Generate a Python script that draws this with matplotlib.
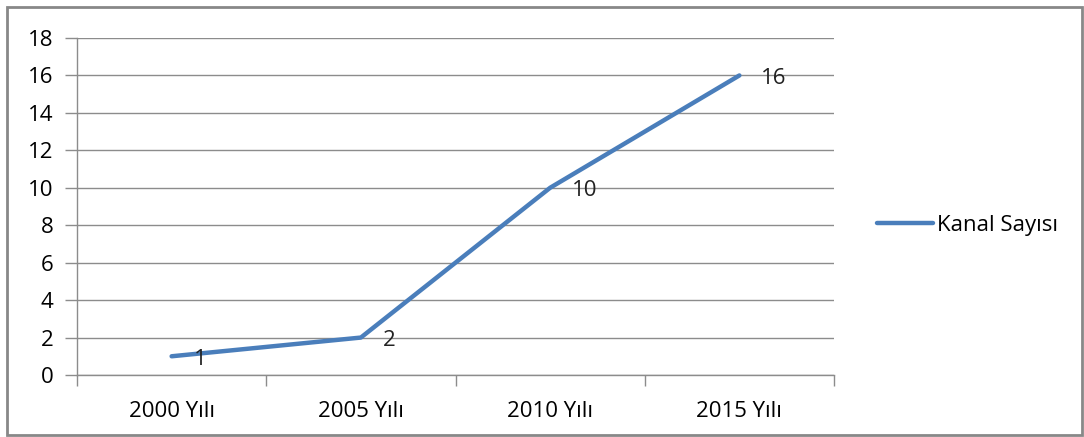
import matplotlib
matplotlib.use("Agg")
import matplotlib.pyplot as plt
from matplotlib.patches import Rectangle
from matplotlib.lines import Line2D

categories = ["2000 Yılı", "2005 Yılı", "2010 Yılı", "2015 Yılı"]
values = [1, 2, 10, 16]
series_name = "Kanal Sayısı"
yticks = [0, 2, 4, 6, 8, 10, 12, 14, 16, 18]

plt.rcParams['font.family'] = ['Open Sans', 'DejaVu Sans']
FS = 16
BLUE = "#4A7EBB"
GRID = "#8C8C8C"

fig = plt.figure(figsize=(10.84, 4.37), dpi=100)
fig.patches.append(Rectangle((7/1084, 2/437), 1075/1084, 428/437, transform=fig.transFigure,
                             fill=False, edgecolor="#888888", linewidth=2))

ax = fig.add_axes([77/1084, 1-375/437, (834-77)/1084, (375-38)/437])
x = list(range(len(categories)))
ax.plot(x, values, color=BLUE, linewidth=3.2, solid_capstyle='round', zorder=3)
for xi, v in zip(x, values):
    ax.annotate(str(v), (xi, v), xytext=(22, -3), textcoords='offset pixels',
                ha='left', va='center', fontsize=FS, color='#222222', zorder=4)

ax.set_xlim(-0.5, len(categories)-0.5)
ax.set_ylim(0, 18)
ax.set_yticks(yticks)
ax.set_yticklabels([str(t) for t in yticks], fontsize=FS)
ax.yaxis.grid(True, color=GRID, linewidth=1)
ax.set_axisbelow(True)
ax.set_xticks([i - 0.5 for i in range(len(categories)+1)])
ax.set_xticklabels([])
ax.set_xticks(x, minor=True)
ax.set_xticklabels(categories, minor=True, fontsize=FS)
ax.tick_params(axis='x', which='minor', length=0, pad=19)
ax.tick_params(axis='x', which='major', length=8, color=GRID, width=1)
ax.tick_params(axis='y', length=9, color=GRID, width=1, pad=8)
for s in ['top', 'right']:
    ax.spines[s].set_visible(False)
for s in ['left', 'bottom']:
    ax.spines[s].set_color(GRID)
    ax.spines[s].set_linewidth(1)

leg_handle = Line2D([], [], color=BLUE, linewidth=3.2, solid_capstyle='round')
fig.legend([leg_handle], [series_name], loc='center left', bbox_to_anchor=(866/1084, 1-225/437),
           frameon=False, fontsize=FS, handlelength=2.5, handletextpad=0.2, borderpad=0)

fig.savefig("out.png", dpi=100)
